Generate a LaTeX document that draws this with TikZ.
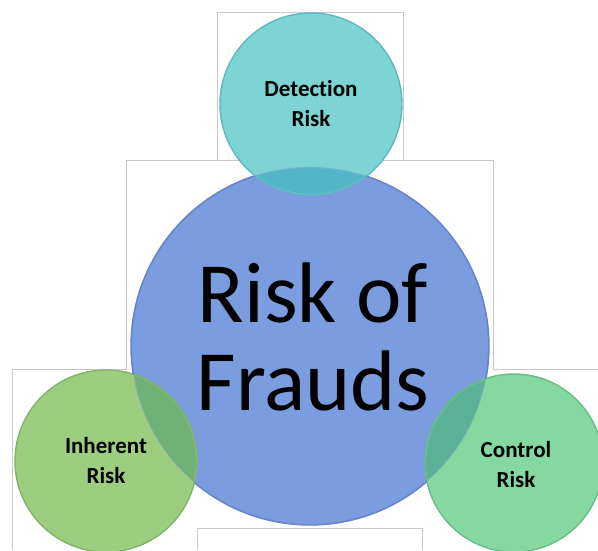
\documentclass[tikz,border=0pt]{standalone}
\usepackage{fontspec}
\setmainfont{Carlito}[Ligatures=NoCommon]
\usetikzlibrary{calc}

\definecolor{detectfill}{RGB}{125,212,212}
\definecolor{detectline}{RGB}{96,182,192}
\definecolor{detectover}{RGB}{82,182,200}
\definecolor{fraudfill}{RGB}{124,156,224}
\definecolor{fraudline}{RGB}{104,132,200}
\definecolor{inherfill}{RGB}{157,206,128}
\definecolor{inherline}{RGB}{128,180,104}
\definecolor{inherover}{RGB}{112,178,118}
\definecolor{ctrlfill}{RGB}{133,216,160}
\definecolor{ctrlline}{RGB}{104,188,134}
\definecolor{ctrlover}{RGB}{92,178,150}
\definecolor{framegray}{RGB}{200,200,200}

\tikzset{
  riskball/.style={circle, inner sep=0pt, line width=1.4pt},
  smallrisk/.style={riskball, minimum size=182pt},
  risklabel/.style={align=center, font=\fontsize{23}{30}\selectfont\bfseries},
  framepart/.style={framegray, line width=.8pt}
}

\begin{document}
\begin{tikzpicture}[x=1pt, y=-1pt]
\useasboundingbox (0,0) rectangle (598,550);

\draw[framepart] (217,160) -- (217,12) -- (403,12) -- (403,160);
\draw[framepart] (12,550) -- (12,369) -- (126,369) -- (126,160) -- (493,160) -- (493,369) -- (598,369);
\draw[framepart] (197,550) -- (197,528) -- (422,528) -- (422,550);

\node[riskball, minimum size=358pt, fill=fraudfill, draw=fraudline] (fraud) at (310,346) {};

\node[smallrisk, fill=detectfill, draw=detectline] (detect) at (311,104) {};
\node[smallrisk, fill=inherfill, draw=inherline] (inherent) at (106,461) {};
\node[smallrisk, minimum size=178pt, fill=ctrlfill, draw=ctrlline] (control) at (514,463) {};

\begin{scope}
\clip (fraud.center) circle[radius=178pt];
\fill[detectover] (detect.center) circle[radius=90pt];
\fill[inherover] (inherent.center) circle[radius=90pt];
\fill[ctrlover] (control.center) circle[radius=88pt];
\end{scope}
\draw[fraudline, opacity=.4, line width=1.2pt] (fraud.center) circle[radius=178.5pt];

\node[font=\fontsize{86}{88}\selectfont, align=center] (fraudtext) at ($(fraud.center)+(3,-9)$) {Risk of\\Frauds};
\node[risklabel] (detecttext) at (detect.center) {Detection\\Risk};
\node[risklabel] (inhertext) at (inherent.center) {Inherent\\Risk};
\node[risklabel] (ctrltext) at ($(control.center)+(2,2)$) {Control\\Risk};

\end{tikzpicture}
\end{document}
